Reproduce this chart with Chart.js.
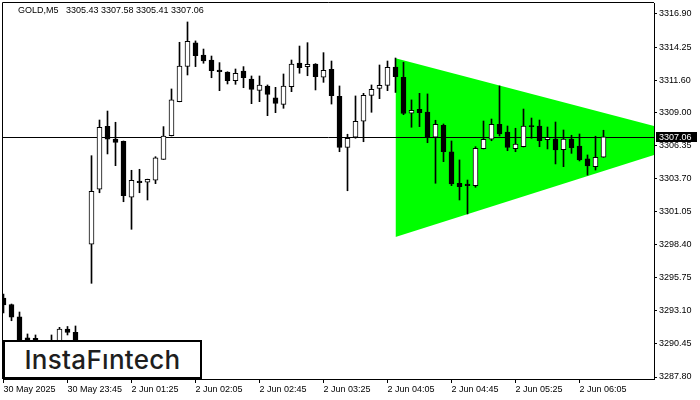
<!DOCTYPE html>
<html>
<head>
<meta charset="utf-8">
<title>GOLD,M5</title>
<script src="https://cdn.jsdelivr.net/npm/chart.js@4.4.1/dist/chart.umd.min.js"></script>
<style>
  html, body { margin: 0; padding: 0; background: #fff; }
  #wrap { position: relative; width: 700px; height: 400px; overflow: hidden; }
  #chart { position: absolute; left: 0; top: 0; }
  #title {
    position: absolute; left: 18px; top: 5px;
    font: 9px/11px "Liberation Sans", Arial, sans-serif; color: #000; white-space: pre;
  }
  #logo {
    position: absolute; left: 3px; top: 340px; width: 195px; height: 35px;
    border: 2px solid #000; background: #fff;
    display: flex; align-items: center; justify-content: center;
    font: 500 26px Inter, "Noto Sans", sans-serif; color: #1e1e1e; letter-spacing: 0.3px;
  }
</style>
</head>
<body>
<div id="wrap">
  <canvas id="chart" width="700" height="400"></canvas>
  <div id="title"></div>
  <div id="logo">InstaFıntech</div>
</div>
<script>
// GOLD, 5-minute candles (30 May 23:05 -> 2 Jun 06:20)
const symbol = 'GOLD';
const timeframe = 'M5';

const opens = [
  3294.13, 3293.61, 3292.63, 3290.95, 3290.90, 3290.45, 3290.50, 3290.55, 3291.65, 3291.38,
  3290.30, 3298.44, 3302.85, 3307.90, 3306.88, 3306.70, 3302.21, 3303.51, 3303.41, 3303.57,
  3305.25, 3307.14, 3309.87, 3312.69, 3314.58, 3313.61, 3313.21, 3312.41, 3312.25, 3311.55,
  3312.33, 3311.69, 3310.78, 3311.13, 3310.17, 3309.66, 3311.07, 3312.97, 3312.68, 3312.89,
  3311.83, 3312.47, 3310.30, 3306.21, 3307.02, 3308.30, 3310.38, 3310.94, 3311.18, 3312.65,
  3311.83, 3308.94, 3309.26, 3309.04, 3307.02, 3307.98, 3305.84, 3303.33, 3303.27, 3303.14,
  3306.10, 3306.86, 3308.06, 3307.44, 3306.10, 3306.26, 3307.92, 3307.92, 3306.82, 3306.88,
  3306.02, 3306.88, 3306.32, 3305.28, 3304.66, 3305.43
];
const highs = [
  3294.45, 3293.65, 3293.01, 3291.25, 3291.17, 3290.60, 3291.17, 3291.78, 3291.85, 3291.89,
  3290.60, 3305.54, 3308.40, 3309.12, 3308.22, 3306.72, 3304.37, 3304.45, 3303.66, 3305.46,
  3307.87, 3310.89, 3314.63, 3316.26, 3314.74, 3314.09, 3313.53, 3313.00, 3312.27, 3312.49,
  3312.68, 3311.93, 3311.93, 3311.21, 3311.02, 3312.09, 3313.21, 3314.33, 3314.60, 3312.92,
  3313.80, 3313.13, 3311.13, 3307.26, 3310.33, 3310.54, 3311.21, 3312.81, 3313.13, 3313.37,
  3313.03, 3310.01, 3310.54, 3310.49, 3308.38, 3308.08, 3306.72, 3305.20, 3303.59, 3306.26,
  3308.32, 3308.48, 3311.13, 3307.92, 3307.74, 3309.28, 3308.56, 3308.40, 3307.84, 3308.24,
  3307.60, 3307.18, 3307.28, 3305.60, 3307.10, 3307.58
];
const lows = [
  3292.93, 3292.31, 3290.10, 3290.05, 3290.20, 3290.10, 3290.20, 3290.40, 3291.17, 3290.20,
  3290.10, 3295.31, 3302.57, 3305.68, 3304.74, 3301.85, 3299.64, 3302.57, 3301.99, 3303.30,
  3305.24, 3307.12, 3309.86, 3312.01, 3312.68, 3312.95, 3311.79, 3310.75, 3311.29, 3311.26,
  3310.99, 3309.71, 3309.87, 3308.75, 3308.99, 3309.34, 3310.67, 3312.15, 3311.95, 3310.81,
  3311.42, 3309.68, 3305.86, 3302.73, 3306.94, 3306.66, 3309.02, 3310.11, 3310.75, 3310.61,
  3308.83, 3307.82, 3307.87, 3306.58, 3303.33, 3305.06, 3303.14, 3301.99, 3300.87, 3303.01,
  3306.08, 3306.74, 3307.12, 3305.94, 3305.86, 3306.24, 3306.94, 3306.26, 3306.08, 3304.88,
  3304.66, 3305.73, 3305.12, 3303.99, 3304.39, 3305.41
];
const closes = [
  3293.57, 3292.59, 3290.40, 3290.40, 3290.50, 3290.30, 3290.60, 3291.65, 3291.37, 3290.40,
  3290.50, 3302.69, 3307.82, 3306.86, 3306.61, 3302.33, 3303.57, 3303.38, 3303.65, 3305.36,
  3307.12, 3310.01, 3312.73, 3314.71, 3313.56, 3313.13, 3312.35, 3312.27, 3311.55, 3312.15,
  3311.79, 3310.86, 3311.21, 3310.46, 3309.74, 3311.13, 3312.89, 3312.60, 3312.87, 3311.87,
  3312.39, 3310.35, 3306.21, 3306.94, 3308.30, 3310.38, 3310.86, 3311.18, 3312.63, 3311.87,
  3308.92, 3309.18, 3308.99, 3307.02, 3308.06, 3305.86, 3303.27, 3303.06, 3303.14, 3306.13,
  3306.86, 3308.06, 3307.28, 3306.20, 3306.48, 3307.92, 3307.87, 3306.74, 3307.02, 3306.00,
  3306.88, 3306.18, 3305.20, 3304.72, 3305.41, 3307.06
];

// Time axis: label every 8th bar
const timeTickIndex = [0, 8, 16, 24, 32, 40, 48, 56, 64, 72];
const timeTickLabels = [
  '30 May 2025', '30 May 23:45', '2 Jun 01:25', '2 Jun 02:05', '2 Jun 02:45',
  '2 Jun 03:25', '2 Jun 04:05', '2 Jun 04:45', '2 Jun 05:25', '2 Jun 06:05'
];

// Price axis labels
const priceTicks = [
  3316.90, 3314.25, 3311.60, 3309.00, 3306.35, 3303.70,
  3301.05, 3298.40, 3295.75, 3293.10, 3290.45, 3287.80
];

// Symmetrical triangle: start bar, upper/lower prices at start, apex bar and price
const triStartIndex = 49;
const triUpperStart = 3313.35;
const triLowerStart = 3299.02;
const triApexIndex = 87.6;
const triApexPrice = 3306.87;

const last = opens.length - 1;
const lastClose = closes[last];

document.getElementById('title').textContent =
  symbol + ',' + timeframe + '   ' +
  [opens[last], highs[last], lows[last], closes[last]].map(v => v.toFixed(2)).join(' ');

const wicks = opens.map((_, i) => ({ x: i, y: [lows[i], highs[i]] }));
const bodies = opens.map((o, i) => ({ x: i, y: [o, closes[i]] }));
const bodyFill = opens.map((o, i) => (closes[i] >= o ? '#ffffff' : '#000000'));

const triUpper = [{ x: triStartIndex, y: triUpperStart }, { x: triApexIndex, y: triApexPrice }];
const triLower = [{ x: triStartIndex, y: triLowerStart }, { x: triApexIndex, y: triApexPrice }];

Chart.defaults.font.family = '"Liberation Sans", Arial, sans-serif';
Chart.defaults.font.size = 9;
Chart.defaults.color = '#000';

const terminalDecor = {
  id: 'terminalDecor',
  beforeDatasetDraw(chart, args) {
    if (args.index !== 2) return; // current-price line goes under the candles
    const { ctx, chartArea: a, scales: { y } } = chart;
    const py = Math.round(y.getPixelForValue(lastClose)) + 0.5;
    ctx.save();
    ctx.strokeStyle = '#000';
    ctx.lineWidth = 1;
    ctx.beginPath();
    ctx.moveTo(a.left, py);
    ctx.lineTo(a.right, py);
    ctx.stroke();
    ctx.restore();
  },
  afterDraw(chart) {
    const { ctx, chartArea: a, scales: { y } } = chart;
    ctx.save();
    // frame: top and left edges
    ctx.strokeStyle = '#000';
    ctx.lineWidth = 1;
    ctx.beginPath();
    ctx.moveTo(a.left - 0.5, a.bottom);
    ctx.lineTo(a.left - 0.5, a.top - 0.5);
    ctx.lineTo(a.right, a.top - 0.5);
    ctx.stroke();
    // price tag for the last close
    const cy = Math.round(y.getPixelForValue(lastClose));
    ctx.fillStyle = '#000';
    ctx.fillRect(a.right + 2, cy - 5, 41, 10);
    ctx.fillStyle = '#fff';
    ctx.font = '9px "Liberation Sans", Arial, sans-serif';
    ctx.textBaseline = 'middle';
    ctx.textAlign = 'left';
    ctx.fillText(lastClose.toFixed(2), a.right + 5, cy + 0.5);
    ctx.restore();
  }
};

new Chart(document.getElementById('chart'), {
  type: 'bar',
  data: {
    datasets: [
      {
        type: 'line', label: 'triangle-upper', data: triUpper, order: 3,
        borderColor: 'rgba(0,0,0,0)', borderWidth: 0, pointRadius: 0, fill: false
      },
      {
        type: 'line', label: 'triangle-lower', data: triLower, order: 3,
        borderColor: 'rgba(0,0,0,0)', borderWidth: 0, pointRadius: 0,
        fill: '-1', backgroundColor: '#00ff00'
      },
      {
        label: 'wicks', data: wicks, order: 2, grouped: false,
        barThickness: 1, backgroundColor: '#000', borderWidth: 0
      },
      {
        label: 'bodies', data: bodies, order: 1, grouped: false,
        barThickness: 5, backgroundColor: bodyFill, borderColor: '#000',
        borderWidth: 1, borderSkipped: false, minBarLength: 1
      }
    ]
  },
  options: {
    responsive: false,
    animation: false,
    events: [],
    layout: { padding: { left: 3, top: 3, right: 0, bottom: 0 } },
    plugins: { legend: { display: false }, tooltip: { enabled: false } },
    scales: {
      x: {
        type: 'linear',
        min: -0.0625,
        max: 81.3125,
        offset: false,
        grid: { drawOnChartArea: false, drawTicks: true, tickLength: 4, tickColor: '#000', offset: false },
        border: { display: true, color: '#000', width: 1 },
        afterBuildTicks: (s) => { s.ticks = timeTickIndex.map(v => ({ value: v })); },
        afterFit: (s) => { s.height = 21; s.paddingLeft = 0; s.paddingRight = 0; },
        ticks: {
          autoSkip: false, maxRotation: 0, align: 'start', padding: 1,
          callback: (v) => timeTickLabels[timeTickIndex.indexOf(v)]
        }
      },
      y: {
        type: 'linear',
        position: 'right',
        min: 3287.64,
        max: 3317.78,
        beginAtZero: false,
        grid: { drawOnChartArea: false, drawTicks: true, tickLength: 3, tickColor: '#000' },
        border: { display: true, color: '#000', width: 1 },
        afterBuildTicks: (s) => { s.ticks = priceTicks.map(v => ({ value: v })); },
        afterFit: (s) => { s.width = 46; s.paddingTop = 0; s.paddingBottom = 0; },
        ticks: { autoSkip: false, padding: 2, callback: (v) => v.toFixed(2) }
      }
    }
  },
  plugins: [terminalDecor]
});
</script>
</body>
</html>
